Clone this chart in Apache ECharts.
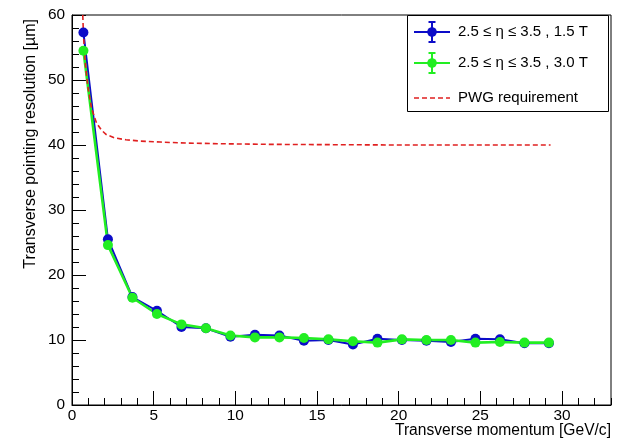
<!DOCTYPE html>
<html>
<head>
<meta charset="utf-8">
<script src="https://cdn.jsdelivr.net/npm/echarts@6/dist/echarts.min.js"></script>
<style>
html,body{margin:0;padding:0;background:#fff;}
#chart{width:623px;height:440px;}
</style>
</head>
<body>
<div id="chart"></div>
<script>
// ---- data ----
const pt = [0.7, 2.2, 3.7, 5.2, 6.7, 8.2, 9.7, 11.2, 12.7, 14.2, 15.7, 17.2, 18.7, 20.2, 21.7, 23.2, 24.7, 26.2, 27.7, 29.2];
const res15T = [57.3, 25.5, 16.6, 14.5, 12.0, 11.8, 10.5, 10.8, 10.7, 9.9, 10.0, 9.3, 10.2, 10.0, 9.9, 9.7, 10.2, 10.1, 9.5, 9.5];
const res30T = [54.5, 24.6, 16.5, 14.0, 12.4, 11.8, 10.7, 10.4, 10.4, 10.3, 10.1, 9.8, 9.6, 10.1, 10.0, 10.0, 9.6, 9.7, 9.6, 9.6];
const reqX = [0.66, 0.7, 0.8, 0.9, 1.0, 1.2, 1.5, 1.8, 2.1, 2.6, 3.3, 4.2, 5.4, 7, 9, 12, 16, 20, 25, 29.3];
const reqY = [60, 57, 53, 50.5, 48.5, 45.6, 43.4, 42.3, 41.6, 41.1, 40.8, 40.6, 40.45, 40.3, 40.2, 40.1, 40.05, 40.0, 40.0, 40.0];
const seriesNames = ['2.5 \u2264 \u03b7 \u2264 3.5 , 1.5 T', '2.5 \u2264 \u03b7 \u2264 3.5 , 3.0 T', 'PWG requirement'];
const xTitle = 'Transverse momentum [GeV/c]';
const yTitle = 'Transverse pointing resolution [\u00b5m]';

const BLUE = '#0c0cc8', GREEN = '#22ee22', RED = '#e02020';
const FONT = '"Liberation Sans", Arial, sans-serif';

const zip = (a, b) => a.map((v, i) => [v, b[i]]);

const chart = echarts.init(document.getElementById('chart'), null, {renderer: 'canvas'});

function legendRow(y, color, dashed, label) {
  const els = [];
  if (dashed) {
    els.push({type: 'line', shape: {x1: 414, y1: y, x2: 450, y2: y},
      style: {stroke: color, lineWidth: 1.5, lineDash: [5, 3]}});
  } else {
    els.push({type: 'line', shape: {x1: 414, y1: y, x2: 450, y2: y}, style: {stroke: color, lineWidth: 2}});
    els.push({type: 'line', shape: {x1: 432, y1: y - 10, x2: 432, y2: y + 10}, style: {stroke: color, lineWidth: 2}});
    els.push({type: 'line', shape: {x1: 428.5, y1: y - 10, x2: 435.5, y2: y - 10}, style: {stroke: color, lineWidth: 2}});
    els.push({type: 'line', shape: {x1: 428.5, y1: y + 10, x2: 435.5, y2: y + 10}, style: {stroke: color, lineWidth: 2}});
    els.push({type: 'circle', shape: {cx: 432, cy: y, r: 4.8}, style: {fill: color}});
  }
  els.push({type: 'text', x: 458, y: y, style: {text: label, fill: '#000', font: '15px ' + FONT, verticalAlign: 'middle'}});
  return els;
}

const option = {
  animation: false,
  backgroundColor: '#fff',
  grid: {left: 72, top: 15, right: 12, bottom: 35, show: true, borderColor: '#000', borderWidth: 1,
         containLabel: false, outerBoundsMode: 'none'},
  xAxis: [{
    type: 'value', min: 0, max: 33, interval: 5, position: 'bottom',
    axisLine: {show: true, lineStyle: {color: '#000', width: 1}},
    axisTick: {show: true, inside: true, length: 14, lineStyle: {color: '#000'}},
    axisLabel: {show: true, margin: 3, color: '#000', fontSize: 15.4, fontFamily: FONT, showMaxLabel: false},
    splitLine: {show: false}
  }, {
    type: 'value', min: 0, max: 33, interval: 1, position: 'bottom', offset: 0,
    axisLine: {show: false},
    axisTick: {show: true, inside: true, length: 7, lineStyle: {color: '#000'}},
    axisLabel: {show: false},
    splitLine: {show: false}
  }],
  yAxis: {
    type: 'value', min: 0, max: 60, interval: 10,
    axisLine: {show: true, lineStyle: {color: '#000', width: 1}},
    axisTick: {show: true, inside: true, length: 14, lineStyle: {color: '#000'}},
    minorTick: {show: true, splitNumber: 5, length: 7, lineStyle: {color: '#000'}},
    axisLabel: {show: true, margin: 7, color: '#000', fontSize: 15.4, fontFamily: FONT},
    splitLine: {show: false},
    name: yTitle, nameLocation: 'end', nameGap: 0, nameRotate: 90,
    nameTextStyle: {color: '#000', fontSize: 16, fontFamily: FONT, align: 'right', verticalAlign: 'bottom', padding: [0, 4, 33, 0]}
  },
  series: [{
    name: seriesNames[0], type: 'line', xAxisIndex: 0, data: zip(pt, res15T),
    symbol: 'circle', symbolSize: 10, showSymbol: true,
    lineStyle: {color: BLUE, width: 2}, itemStyle: {color: BLUE}
  }, {
    name: seriesNames[1], type: 'line', xAxisIndex: 0, data: zip(pt, res30T),
    symbol: 'circle', symbolSize: 10, showSymbol: true,
    lineStyle: {color: GREEN, width: 2.6}, itemStyle: {color: GREEN}
  }, {
    name: seriesNames[2], type: 'line', xAxisIndex: 0, data: zip(reqX, reqY),
    symbol: 'none', smooth: false,
    lineStyle: {color: RED, width: 1.6, type: [5, 3]}
  }],
  graphic: [{
    type: 'text', silent: true, right: 12, top: 423,
    style: {text: xTitle, fill: '#000', font: '15.6px ' + FONT}
  }, {
    type: 'group', silent: true, z: 100,
    children: [{type: 'rect', shape: {x: 407.5, y: 15.5, width: 201, height: 96}, style: {fill: '#fff', stroke: '#000', lineWidth: 1}}]
      .concat(legendRow(32, BLUE, false, seriesNames[0]))
      .concat(legendRow(63, GREEN, false, seriesNames[1]))
      .concat(legendRow(98, RED, true, seriesNames[2]))
  }]
};
chart.setOption(option);
</script>
</body>
</html>
